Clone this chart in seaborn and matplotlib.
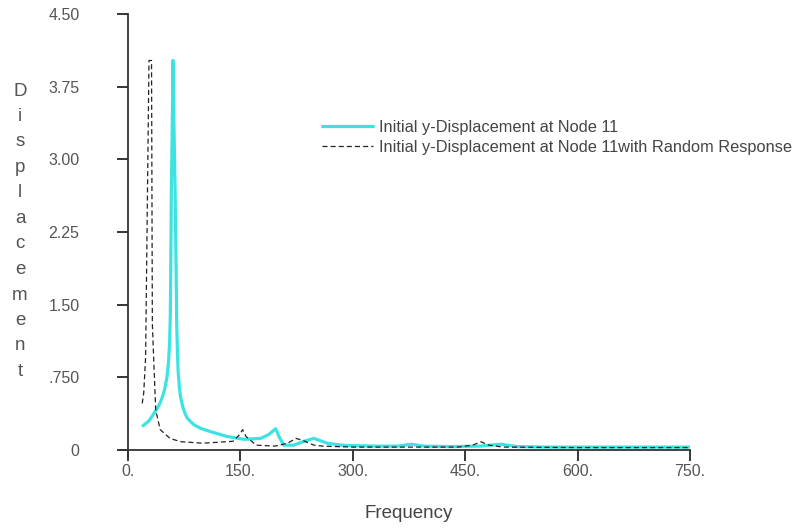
import matplotlib
matplotlib.use("Agg")
import matplotlib.pyplot as plt
import seaborn as sns

# frequency response
cyan_freq = [20, 28, 36.5, 42, 46, 49, 52, 54, 55.5, 56.5, 57.2, 57.8, 59, 60, 61, 63, 64, 65, 66,
             67, 68.5, 70, 73, 76, 79, 84, 88, 98, 110, 132, 155, 177, 188, 197, 202, 208, 221,
             235, 248, 266, 285, 300, 330, 360, 378, 395, 430, 470, 497, 520, 560, 620, 700, 750]
cyan_disp = [0.25, 0.30, 0.40, 0.47, 0.55, 0.63, 0.75, 0.9, 1.1, 1.4, 2.0, 2.65, 3.3, 4.02, 3.5,
             2.6, 2.0, 1.3, 1.0, 0.8, 0.65, 0.55, 0.45, 0.38, 0.33, 0.29, 0.26, 0.22, 0.19, 0.14,
             0.11, 0.12, 0.16, 0.22, 0.13, 0.05, 0.05, 0.09, 0.12, 0.07, 0.05, 0.045, 0.04, 0.04,
             0.06, 0.04, 0.035, 0.04, 0.06, 0.035, 0.03, 0.03, 0.03, 0.03]

rand_freq = [19, 21, 23.5, 24, 28, 31.4, 32.5, 35, 37, 43, 56, 70, 100, 132, 140, 148, 153, 157.5,
             171, 196, 213, 224, 233, 248, 260, 300, 350, 400, 440, 460, 471, 482, 500, 600, 750]
rand_disp = [0.48, 0.59, 0.96, 1.3, 4.02, 4.02, 1.3, 0.8, 0.41, 0.21, 0.12, 0.086, 0.07, 0.086,
             0.09, 0.15, 0.21, 0.14, 0.05, 0.04, 0.07, 0.12, 0.10, 0.05, 0.04, 0.03, 0.03, 0.03,
             0.03, 0.05, 0.085, 0.05, 0.03, 0.025, 0.025]

x_ticks = [0, 150, 300, 450, 600, 750]
x_labels = ["0.", "150.", "300.", "450.", "600.", "750."]
y_ticks = [0, 0.75, 1.5, 2.25, 3.0, 3.75, 4.5]
y_labels = ["0", ".750", "1.50", "2.25", "3.00", "3.75", "4.50"]

label_a = "Initial y-Displacement at Node 11"
label_b = "Initial y-Displacement at Node 11with Random Response"

sns.set_style("ticks")
plt.rcParams["font.family"] = ["Liberation Sans", "DejaVu Sans"]

fig = plt.figure(figsize=(8.06, 5.29), dpi=100)
ax = fig.add_axes([128 / 806, 79 / 529, 562 / 806, 436 / 529])

sns.lineplot(x=cyan_freq, y=cyan_disp, ax=ax, color="#3de3e3", lw=2.3, label=label_a)
sns.lineplot(x=rand_freq, y=rand_disp, ax=ax, color="#222222", lw=0.9,
             linestyle=(0, (4, 2.5)), label=label_b)

ax.set_xlim(0, 750)
ax.set_ylim(0, 4.5)
ax.set_xticks(x_ticks, x_labels)
ax.set_yticks(y_ticks, y_labels)
sns.despine(ax=ax)
for s in ("left", "bottom"):
    ax.spines[s].set_linewidth(1.3)
    ax.spines[s].set_color("#333333")
ax.spines["left"].set_bounds(-0.07, 4.5)
ax.spines["bottom"].set_bounds(-10, 750)

ax.tick_params(axis="y", length=8, width=1.3, pad=27, labelsize=11.5, labelcolor="#555555")
ax.tick_params(axis="x", length=8, width=1.3, pad=2, labelsize=11.5, labelcolor="#555555")

ax.set_xlabel("Frequency", fontsize=13.5, color="#444444", labelpad=19)
ax.set_ylabel("")

# stacked letters of the y label
for i, ch in enumerate("Displacement"):
    fig.text(20 / 806, 1 - (91 + i * 25.5) / 529, ch, ha="center", va="center",
             fontsize=13.5, color="#555555")

ax.legend(loc="upper left", bbox_to_anchor=(314 / 806, 1 - 112 / 529),
          bbox_transform=fig.transFigure, frameon=False, fontsize=11.8,
          handlelength=3.1, handletextpad=0.35, borderpad=0, labelspacing=0.3,
          labelcolor="#444444")

fig.savefig("out.png", dpi=100)
